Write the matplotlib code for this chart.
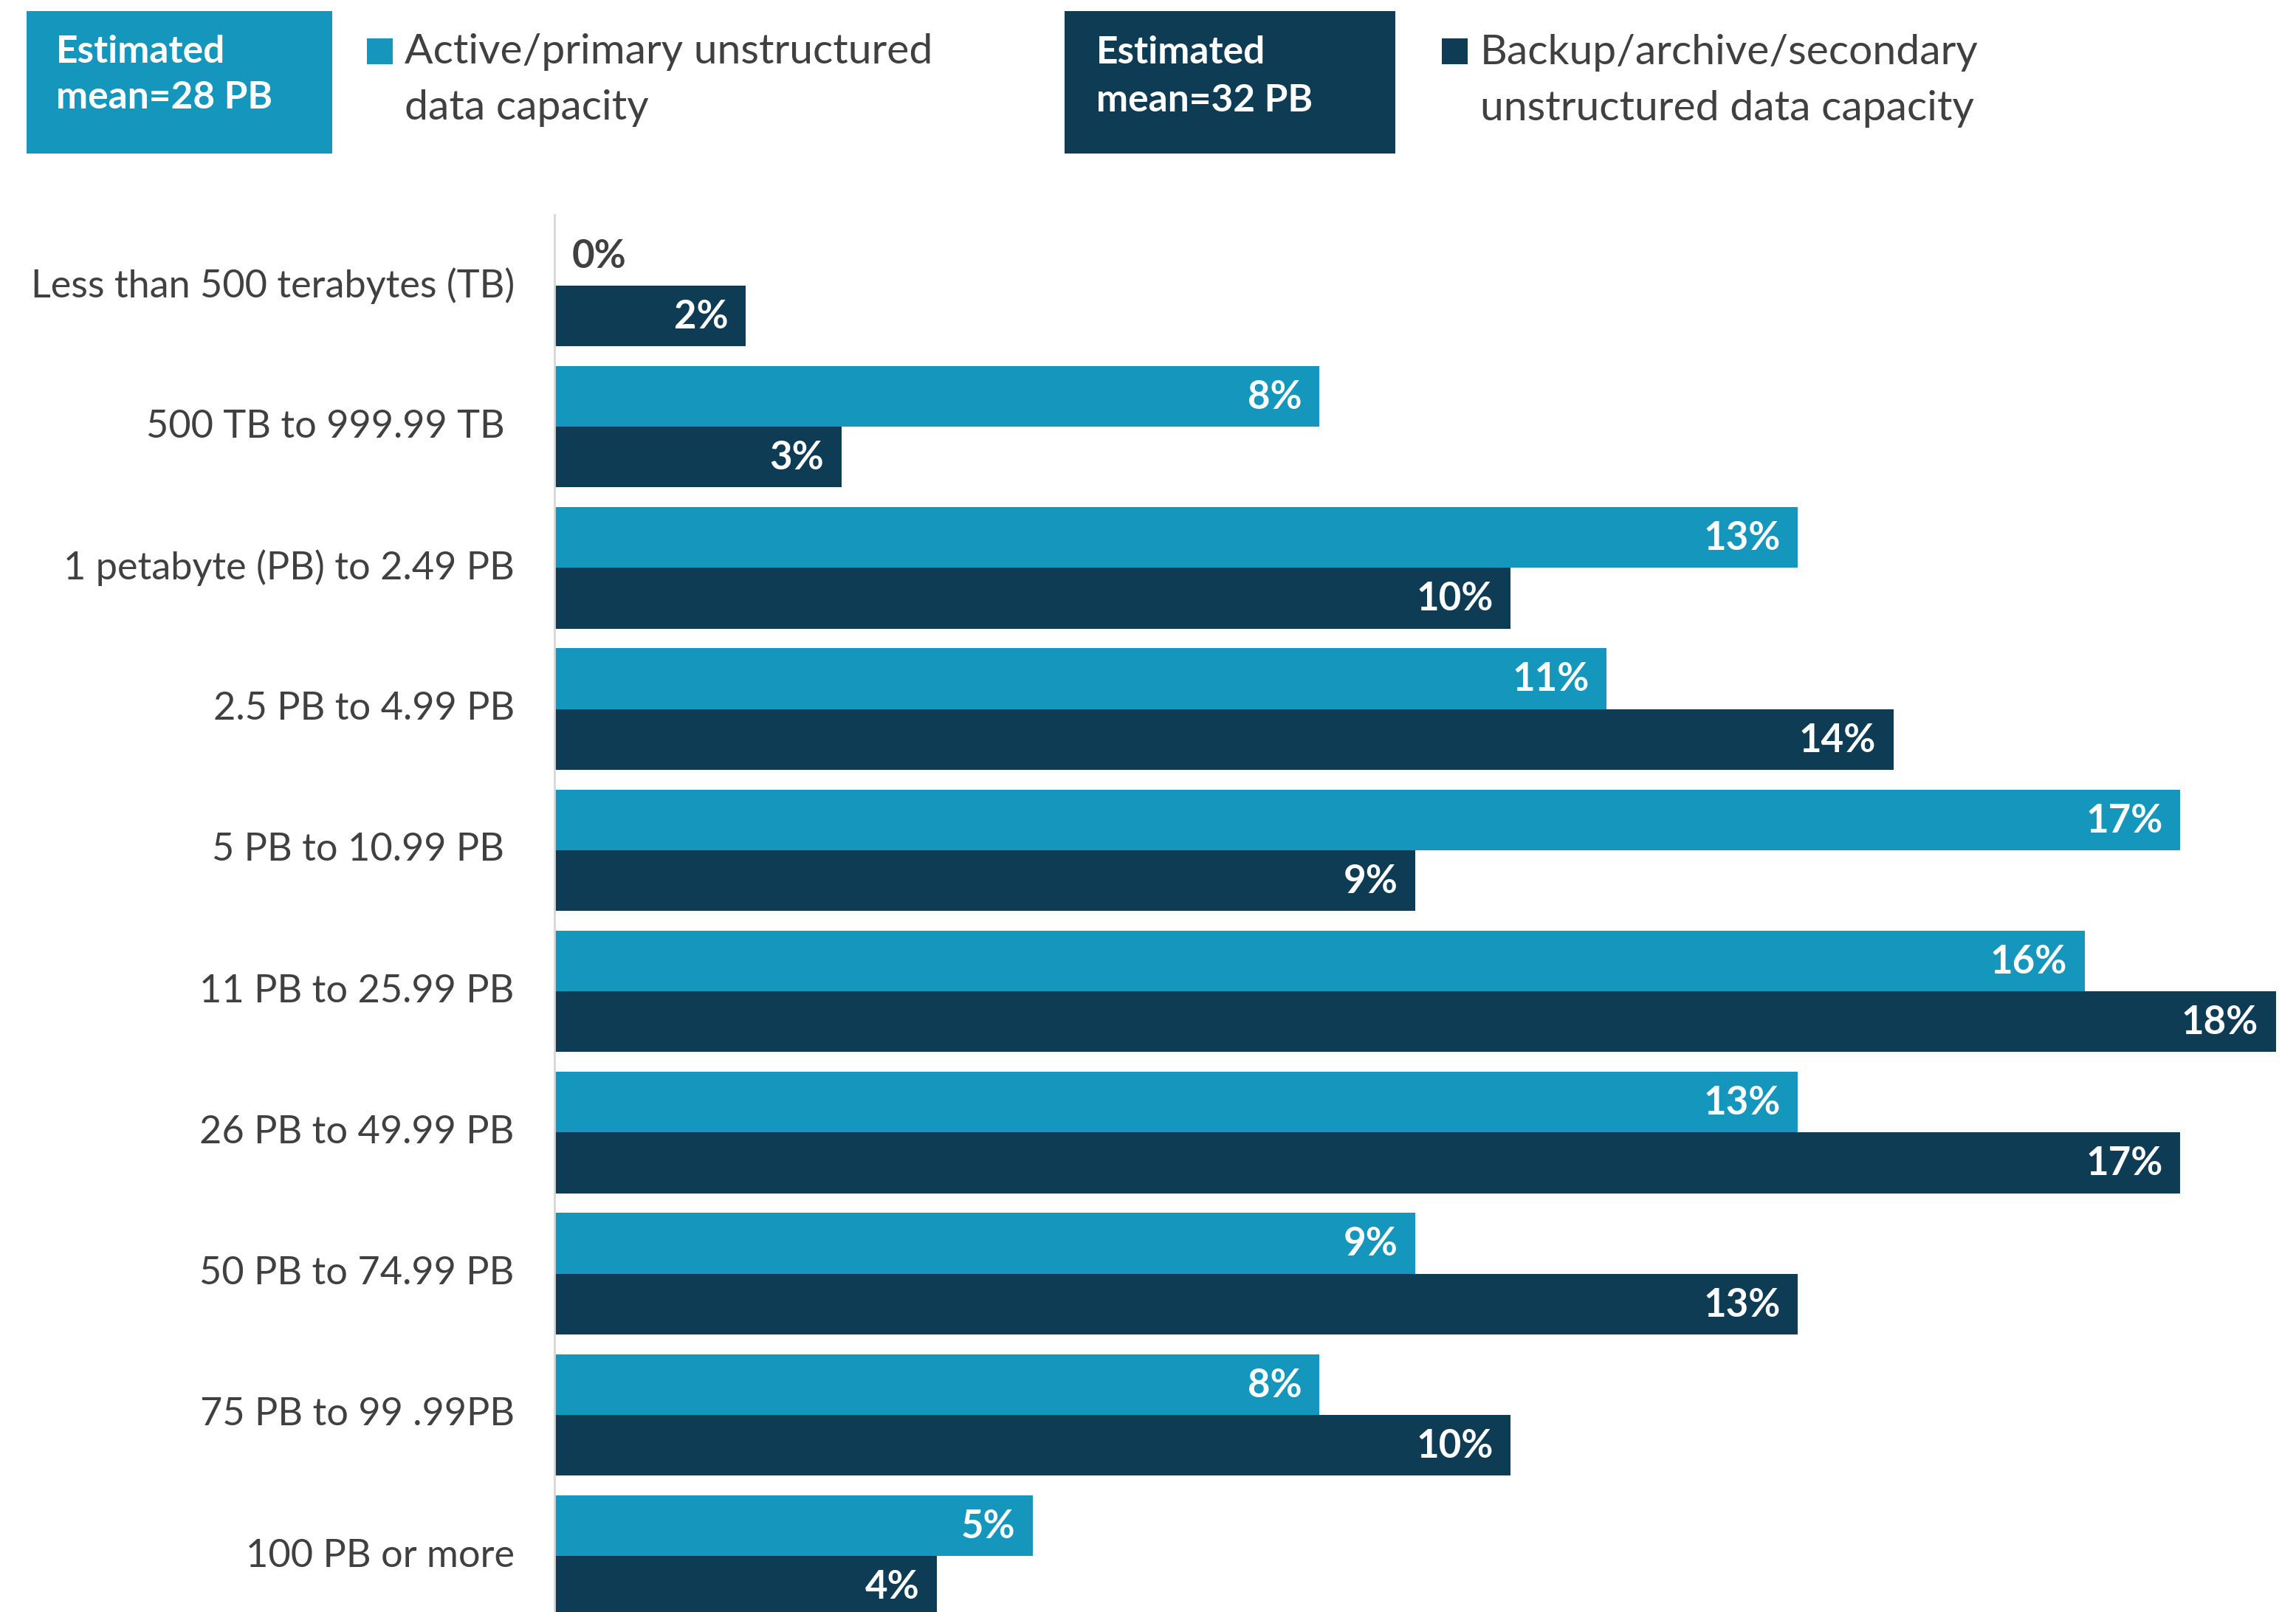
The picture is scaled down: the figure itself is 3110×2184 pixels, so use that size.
import matplotlib
matplotlib.use("Agg")
import matplotlib.pyplot as plt
from matplotlib.patches import Rectangle
import numpy as np

plt.rcParams['font.family'] = ['Lato', 'DejaVu Sans']

# data
categories = [
    "Less than 500 terabytes (TB)",
    "500 TB to 999.99 TB ",
    "1 petabyte (PB) to 2.49 PB",
    "2.5 PB to 4.99 PB",
    "5 PB to 10.99 PB ",
    "11 PB to 25.99 PB",
    "26 PB to 49.99 PB",
    "50 PB to 74.99 PB",
    "75 PB to 99 .99PB",
    "100 PB or more",
]
active = [0, 8, 13, 11, 17, 16, 13, 9, 8, 5]
backup = [2, 3, 10, 14, 9, 18, 17, 13, 10, 4]
series_names = ["Active/primary unstructured\ndata capacity",
                "Backup/archive/secondary\nunstructured data capacity"]
mean_labels = ["Estimated\nmean=28 PB", "Estimated\nmean=32 PB"]

TEAL = '#1596bd'
NAVY = '#0e3c55'
GREY = '#404040'

W, H = 3110, 2184
fig = plt.figure(figsize=(W / 200, H / 200), dpi=200)

# axes placed in pixel terms
ax_left, ax_top = 751, 291
ax = fig.add_axes([ax_left / W, 0, 1 - ax_left / W, 1 - ax_top / H])

y = np.arange(len(categories))
h = 0.43
ax.barh(y - h / 2, active, height=h, color=TEAL)
ax.barh(y + h / 2, backup, height=h, color=NAVY)

ax.set_xlim(0, 18.21)
ax.set_ylim(9.397, -0.502)

for vals, off in [(active, -h / 2), (backup, h / 2)]:
    for i, v in enumerate(vals):
        if v == 0:
            ax.annotate(f"{v}%", xy=(0, i + off), xytext=(8.5, -0.5),
                        textcoords='offset points', ha='left', va='center',
                        fontsize=19, fontweight='bold', color=GREY)
        else:
            ax.annotate(f"{v}%", xy=(v, i + off), xytext=(-8.5, -0.5),
                        textcoords='offset points', ha='right', va='center',
                        fontsize=19, fontweight='bold', color='white')

ax.set_yticks(y)
ax.set_yticklabels(categories, fontsize=18.8, color=GREY, va='center')
ax.tick_params(axis='y', length=0, pad=19.5)
ax.set_xticks([])
for s in ['top', 'right', 'bottom']:
    ax.spines[s].set_visible(False)
ax.spines['left'].set_color('#d6d6d6')
ax.spines['left'].set_linewidth(1.0)

# legend drawn by hand
def fx(px):
    return px / W

def fy(px):
    return 1 - px / H

legend_items = [
    # box x0, x1, text x, baselines, square x, label x, label baselines
    (36, 450, 76, (85, 147), 497, 548, (86, 162), TEAL),
    (1442, 1890, 1485, (86, 151), 1953, 2005, (87, 163), NAVY),
]
for k, (bx0, bx1, tx, tb, sx, lx, lb, col) in enumerate(legend_items):
    fig.add_artist(Rectangle((fx(bx0), fy(208)), fx(bx1 - bx0), (208 - 15) / H,
                             transform=fig.transFigure, color=col, lw=0))
    for line, base in zip(mean_labels[k].split("\n"), tb):
        fig.text(fx(tx), fy(base), line, color='white', fontsize=18.5,
                 fontweight='bold', va='baseline', ha='left')
    fig.add_artist(Rectangle((fx(sx), fy(87)), fx(35), 35 / H,
                             transform=fig.transFigure, color=col, lw=0))
    for line, base in zip(series_names[k].split("\n"), lb):
        fig.text(fx(lx), fy(base), line, color=GREY, fontsize=20.5,
                 va='baseline', ha='left')

fig.savefig("out.png", dpi=200)
